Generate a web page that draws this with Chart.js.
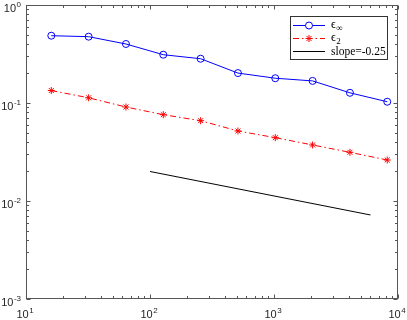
<!DOCTYPE html>
<html>
<head>
<meta charset="utf-8">
<script src="https://cdn.jsdelivr.net/npm/chart.js@4/dist/chart.umd.min.js"></script>
<style>
html,body{margin:0;padding:0;background:#fff;}
#wrap{width:407px;height:320px;}
</style>
</head>
<body>
<div id="wrap"><canvas id="c" width="407" height="320"></canvas></div>
<script>
// ---- data ----
const nValues = [16, 32, 64, 128, 256, 512, 1024, 2048, 4096, 8192];
const errInf  = [0.486, 0.475, 0.400, 0.311, 0.283, 0.202, 0.179, 0.168, 0.127, 0.103];
const err2    = [0.134, 0.113, 0.091, 0.076, 0.066, 0.0518, 0.0443, 0.0373, 0.0314, 0.0262];
const slopeX  = [100, 6000];
const slopeY  = [0.02, 0.0072];
const xTickVals = [10, 100, 1000, 10000];
const xTickExp  = ['1', '2', '3', '4'];
const yTickVals = [0.001, 0.01, 0.1, 1];
const yTickExp  = ['-3', '-2', '-1', '0'];
const legendNames = [['ϵ', '∞'], ['ϵ', '2'], ['slope=-0.25', '']];

const pts = (xs, ys) => xs.map((x, i) => ({x: x, y: ys[i]}));

const AXIS_COLOR = '#555';
const SANS = "'Liberation Sans', Arial, Helvetica, sans-serif";
const SERIF = "'Liberation Serif', 'DejaVu Serif', 'Times New Roman', serif";

const decoPlugin = {
  id: 'deco',
  afterDraw(chart) {
    const ctx = chart.ctx;
    const a = chart.chartArea;
    const xs = chart.scales.x, ys = chart.scales.y;
    ctx.save();
    // box
    ctx.strokeStyle = AXIS_COLOR;
    ctx.lineWidth = 1;
    const L = Math.round(a.left) + 0.5, R = Math.round(a.right) - 0.5;
    const T = Math.round(a.top) + 0.5, B = Math.round(a.bottom) - 0.5;
    ctx.strokeRect(L, T, R - L, B - T);
    // ticks
    ctx.beginPath();
    const xMinor = [], yMinor = [];
    for (let d = 10; d < 10000; d *= 10) for (let k = 2; k <= 9; k++) xMinor.push(k * d);
    for (let d = 0.001; d < 0.99; d *= 10) for (let k = 2; k <= 9; k++) yMinor.push(k * d);
    function xt(v, len) {
      const p = Math.round(xs.getPixelForValue(v)) + 0.5;
      ctx.moveTo(p, B); ctx.lineTo(p, B - len);
      ctx.moveTo(p, T); ctx.lineTo(p, T + len);
    }
    function yt(v, len) {
      const p = Math.round(ys.getPixelForValue(v)) + 0.5;
      ctx.moveTo(L, p); ctx.lineTo(L + len, p);
      ctx.moveTo(R, p); ctx.lineTo(R - len, p);
    }
    xTickVals.forEach(v => xt(v, 4));
    xMinor.forEach(v => xt(v, 2.5));
    yTickVals.forEach(v => yt(v, 4));
    yMinor.forEach(v => yt(v, 2.5));
    ctx.stroke();

    // tick labels
    ctx.fillStyle = '#262626';
    ctx.textBaseline = 'alphabetic';
    ctx.textAlign = 'left';
    const baseFont = '11px ' + SANS, expFont = '8px ' + SANS;
    function labelWidth(exp) {
      ctx.font = baseFont; const w1 = ctx.measureText('10').width;
      ctx.font = expFont; const w2 = ctx.measureText(exp).width;
      return [w1, w2];
    }
    function drawLabel(x0, base, exp) {
      const [w1] = labelWidth(exp);
      ctx.font = baseFont; ctx.fillText('10', x0, base);
      ctx.font = expFont; ctx.fillText(exp, x0 + w1 + 0.5, base - 5);
    }
    xTickVals.forEach((v, i) => {
      const p = xs.getPixelForValue(v);
      const [w1, w2] = labelWidth(xTickExp[i]);
      drawLabel(p - (w1 + w2 + 0.5) / 2 - 1, 318, xTickExp[i]);
    });
    yTickVals.forEach((v, i) => {
      const p = ys.getPixelForValue(v);
      const [w1, w2] = labelWidth(yTickExp[i]);
      drawLabel(a.left - 5 - (w1 + w2 + 0.5), p + 6.5, yTickExp[i]);
    });

    // legend
    const bx = 290.5, by = 16.5, bw = 97, bh = 43;
    ctx.fillStyle = '#fff';
    ctx.fillRect(bx, by, bw, bh);
    ctx.strokeStyle = '#333';
    ctx.lineWidth = 1;
    ctx.strokeRect(bx, by, bw, bh);
    const rows = [25, 38, 51];
    chart.data.datasets.forEach((ds, i) => {
      const y = rows[i];
      ctx.save();
      ctx.strokeStyle = ds.borderColor;
      ctx.lineWidth = ds.borderWidth;
      ctx.setLineDash(ds.borderDash || []);
      ctx.beginPath(); ctx.moveTo(293, y + 0.5); ctx.lineTo(325, y + 0.5); ctx.stroke();
      ctx.restore();
      if (ds.pointRadius > 0) {
        ctx.save();
        ctx.strokeStyle = ds.pointBorderColor;
        ctx.lineWidth = ds.pointBorderWidth;
        Chart.helpers.drawPoint(ctx, {pointStyle: ds.pointStyle, radius: ds.pointRadius, borderWidth: ds.pointBorderWidth, rotation: 0}, 309, y + 0.5);
        ctx.restore();
      }
      ctx.fillStyle = '#000';
      ctx.textAlign = 'left';
      const nm = legendNames[i];
      if (nm[1]) {
        ctx.font = '12px ' + SERIF;
        ctx.fillText(nm[0], 331, y + 3);
        const w = ctx.measureText(nm[0]).width;
        ctx.font = '9px ' + SERIF;
        ctx.fillText(nm[1], 331 + w + 0.5, y + 6);
      } else {
        ctx.font = '11.5px ' + SERIF;
        ctx.fillText(nm[0], 331, y + 4);
      }
    });
    ctx.restore();
  }
};

new Chart(document.getElementById('c'), {
  type: 'line',
  data: {
    datasets: [
      {
        label: 'eps_inf', data: pts(nValues, errInf),
        borderColor: '#0000ff', borderWidth: 1, tension: 0,
        pointStyle: 'circle', pointRadius: 3.5, pointBorderColor: '#0000ff',
        pointBackgroundColor: 'rgba(0,0,0,0)', pointBorderWidth: 1
      },
      {
        label: 'eps_2', data: pts(nValues, err2),
        borderColor: '#ff0000', borderWidth: 1, borderDash: [6, 3, 1.5, 3], tension: 0,
        pointStyle: 'star', pointRadius: 3.5, pointBorderColor: '#ff0000',
        pointBackgroundColor: '#ff0000', pointBorderWidth: 1
      },
      {
        label: 'slope', data: pts(slopeX, slopeY),
        borderColor: '#000000', borderWidth: 1, tension: 0,
        pointRadius: 0, pointBorderWidth: 0, pointBorderColor: '#000'
      }
    ]
  },
  options: {
    responsive: false,
    animation: false,
    devicePixelRatio: 1,
    layout: {padding: {left: 26, right: 9, top: 5, bottom: 21}},
    plugins: {legend: {display: false}, tooltip: {enabled: false}},
    scales: {
      x: {type: 'logarithmic', min: 10, max: 10000, display: false},
      y: {type: 'logarithmic', min: 0.001, max: 1, display: false}
    }
  },
  plugins: [decoPlugin]
});
</script>
</body>
</html>
